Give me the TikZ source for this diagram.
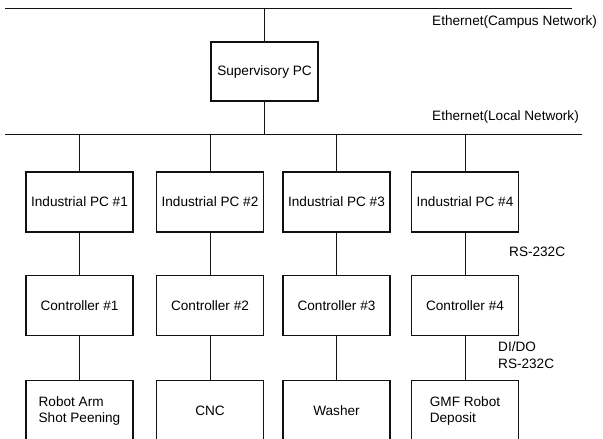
\documentclass[tikz,border=0pt]{standalone}
\usepackage{fontspec}
\setmainfont{Liberation Sans}
\usepackage{xcolor}
\usepackage{tikz}
\usetikzlibrary{positioning}
\definecolor{inkc}{HTML}{111111}
\tikzset{
  box/.style={draw=inkc,line width=1.3pt,minimum width=107pt,minimum height=60pt,align=left,inner sep=2pt,font=\fontsize{13.6}{16}\selectfont},
  ln/.style={inkc,line width=0.9pt},
  lbl/.style={anchor=west,inner sep=0pt,align=left,font=\fontsize{13.6}{17}\selectfont}
}
\begin{document}
\begin{tikzpicture}[x=1pt,y=-1pt]
\useasboundingbox (0,0) rectangle (603,439);
\coordinate (campL) at (5,8); \coordinate (campR) at (572,8);
\coordinate (locL) at (5,134); \coordinate (locR) at (582,134);
\draw[ln] (campL) -- (campR);
\draw[ln] (locL) -- (locR);
\node[lbl] (campt) at (432,22) {Ethernet(Campus Network)};
\node[lbl] (loct) at (432,117) {Ethernet(Local Network)};
\node[box,minimum height=59pt] (sup) at (264.5,71.5) {Supervisory PC};
\draw[ln] (sup.north) -- (sup.north |- campL);
\draw[ln] (sup.south) -- (sup.south |- locL);
% industrial PCs
\node[box] (ipc1) at (79.5,202) {Industrial PC \#1};
\node[box] (ipc2) at (210,202) {Industrial PC \#2};
\node[box] (ipc3) at (336.5,202) {Industrial PC \#3};
\node[box] (ipc4) at (465,202) {Industrial PC \#4};
% controllers
\node[box,below=42pt of ipc1] (ctl1) {Controller \#1};
\node[box,below=42pt of ipc2] (ctl2) {Controller \#2};
\node[box,below=42pt of ipc3] (ctl3) {Controller \#3};
\node[box,below=42pt of ipc4] (ctl4) {Controller \#4};
% machines
\node[box,below=44pt of ctl1] (dev1) {Robot Arm\\Shot Peening};
\node[box,below=44pt of ctl2] (dev2) {CNC};
\node[box,below=44pt of ctl3] (dev3) {Washer};
\node[box,below=44pt of ctl4] (dev4) {GMF Robot\\Deposit};
\draw[ln] (ipc1.north |- locL) -- (ipc1.north);
\draw[ln] (ipc2.north |- locL) -- (ipc2.north);
\draw[ln] (ipc3.north |- locL) -- (ipc3.north);
\draw[ln] (ipc4.north |- locL) -- (ipc4.north);
\draw[ln] (ipc1) -- (ctl1); \draw[ln] (ctl1) -- (dev1);
\draw[ln] (ipc2) -- (ctl2); \draw[ln] (ctl2) -- (dev2);
\draw[ln] (ipc3) -- (ctl3); \draw[ln] (ctl3) -- (dev3);
\draw[ln] (ipc4) -- (ctl4); \draw[ln] (ctl4) -- (dev4);
\node[lbl] (rs1) at (509,252) {RS-232C};
\node[lbl] (rs2) at (498,355) {DI/DO\\RS-232C};
\end{tikzpicture}
\end{document}
